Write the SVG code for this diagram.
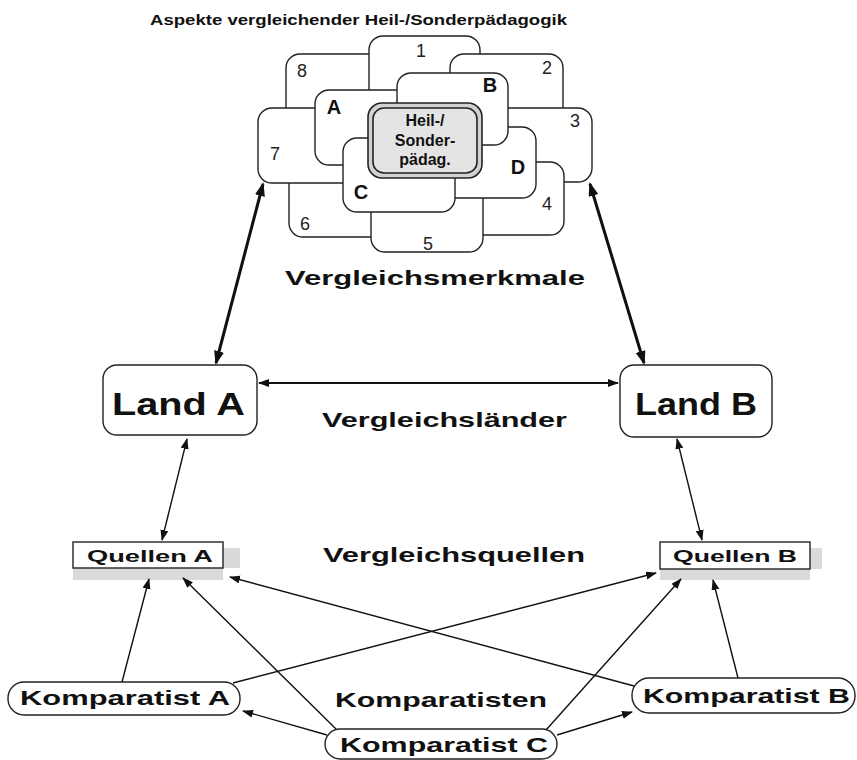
<svg xmlns="http://www.w3.org/2000/svg" width="857" height="760" viewBox="0 0 857 760">
<style>
.b{font-family:"Liberation Sans",Arial,sans-serif;font-weight:bold;fill:#111}
.n{font-family:"Liberation Sans",Arial,sans-serif;font-size:18px;fill:#222;text-anchor:middle}
.L{font-family:"Liberation Sans",Arial,sans-serif;font-weight:bold;font-size:20px;fill:#111;text-anchor:middle}
.box{fill:#fff;stroke:#222;stroke-width:1.4}
.c{stroke:#111;stroke-width:1.4;fill:none}
.sh{fill:#dadada}
</style>
<defs>
<marker id="ah" markerUnits="userSpaceOnUse" markerWidth="12" markerHeight="9" refX="10" refY="4" orient="auto-start-reverse"><path d="M0,0 L11,4 L0,8 z" fill="#111"/></marker>
<marker id="ahB" markerUnits="userSpaceOnUse" markerWidth="15" markerHeight="11" refX="12" refY="5" orient="auto-start-reverse"><path d="M0,0 L14,5 L0,10 z" fill="#111"/></marker>
</defs>
<rect width="857" height="760" fill="#fff"/>
<text class="b" x="150" y="25" font-size="15" textLength="417" lengthAdjust="spacingAndGlyphs">Aspekte vergleichender Heil-/Sonderpädagogik</text>

<g id="flower">
<g id="f8"><rect class="box" x="286" y="54" width="114" height="80" rx="14"/><text class="n" x="302" y="77">8</text></g>
<g id="f1"><rect class="box" x="369" y="36" width="111" height="90" rx="14"/><text class="n" x="421" y="57">1</text></g>
<g id="f2"><rect class="box" x="450" y="54" width="113" height="80" rx="14"/><text class="n" x="547" y="74">2</text></g>
<g id="f3"><rect class="box" x="480" y="108" width="112" height="74" rx="14"/><text class="n" x="575" y="127">3</text></g>
<g id="f4"><rect class="box" x="450" y="162" width="114" height="73" rx="14"/><text class="n" x="547" y="210">4</text></g>
<g id="f6"><rect class="box" x="289" y="160" width="112" height="77" rx="14"/><text class="n" x="305" y="230">6</text></g>
<g id="f5"><rect class="box" x="371" y="170" width="112" height="82" rx="14"/><text class="n" x="428" y="250">5</text></g>
<g id="f7"><rect class="box" x="258" y="108" width="112" height="75" rx="14"/><text class="n" x="275" y="160">7</text></g>
<g id="fA"><rect class="box" x="315" y="90" width="115" height="75" rx="14"/><text class="L" x="334" y="114">A</text></g>
<g id="fD"><rect class="box" x="427" y="127" width="109" height="71" rx="14"/><text class="L" x="518" y="174">D</text></g>
<g id="fB"><rect class="box" x="397" y="73" width="111" height="72" rx="14"/><text class="L" x="490" y="92">B</text></g>
<g id="fC"><rect class="box" x="343" y="138" width="112" height="74" rx="14"/><text class="L" x="361" y="199">C</text></g>
<g id="center">
<rect x="368" y="103" width="114" height="75" rx="14" fill="#d2d2d2" stroke="#222" stroke-width="1.6"/>
<rect x="373" y="108" width="104" height="65" rx="11" fill="#e4e4e4" stroke="#222" stroke-width="1.6"/>
<text class="b" x="425" y="126" font-size="16" text-anchor="middle">Heil-/</text>
<text class="b" x="425" y="146" font-size="16" text-anchor="middle">Sonder-</text>
<text class="b" x="425" y="165" font-size="16" text-anchor="middle">pädag.</text>
</g>
</g>

<text class="b" x="285" y="285" font-size="21" textLength="300" lengthAdjust="spacingAndGlyphs">Vergleichsmerkmale</text>
<text class="b" x="322" y="427" font-size="21" textLength="245" lengthAdjust="spacingAndGlyphs">Vergleichsländer</text>
<text class="b" x="323" y="562" font-size="21" textLength="262" lengthAdjust="spacingAndGlyphs">Vergleichsquellen</text>
<text class="b" x="335" y="707" font-size="21" textLength="212" lengthAdjust="spacingAndGlyphs">Komparatisten</text>

<g id="landA"><rect class="box" x="103" y="365" width="154" height="70" rx="14"/><text class="b" x="112" y="415" font-size="32" textLength="133" lengthAdjust="spacingAndGlyphs">Land A</text></g>
<g id="landB"><rect class="box" x="620" y="365" width="152" height="72" rx="14"/><text class="b" x="635" y="415" font-size="32" textLength="122" lengthAdjust="spacingAndGlyphs">Land B</text></g>

<g id="quellenA"><path class="sh" d="M73,568 H240 V548 H223 V580 H73 z"/><rect class="box" x="73" y="542" width="150" height="26"/><text class="b" x="87" y="562" font-size="17" textLength="126" lengthAdjust="spacingAndGlyphs">Quellen A</text></g>
<g id="quellenB"><path class="sh" d="M660,569 H822 V548 H810 V580 H660 z"/><rect class="box" x="660" y="542" width="150" height="27"/><text class="b" x="673" y="562" font-size="17" textLength="124" lengthAdjust="spacingAndGlyphs">Quellen B</text></g>

<g id="kompA"><rect class="box" x="8" y="682" width="232" height="33" rx="16"/><text class="b" x="20" y="705" font-size="21" textLength="210" lengthAdjust="spacingAndGlyphs">Komparatist A</text></g>
<g id="kompB"><rect class="box" x="632" y="678" width="223" height="35" rx="17"/><text class="b" x="643" y="703" font-size="21" textLength="207" lengthAdjust="spacingAndGlyphs">Komparatist B</text></g>
<g id="kompC"><rect class="box" x="325" y="729" width="232" height="30" rx="15"/><text class="b" x="340" y="752" font-size="21" textLength="208" lengthAdjust="spacingAndGlyphs">Komparatist C</text></g>

<g id="connectors">
<line x1="263" y1="184" x2="216" y2="363" stroke="#111" stroke-width="3" marker-start="url(#ahB)" marker-end="url(#ahB)"/>
<line x1="590" y1="184" x2="644" y2="363" stroke="#111" stroke-width="3" marker-start="url(#ahB)" marker-end="url(#ahB)"/>
<line x1="259" y1="383" x2="618" y2="383" stroke="#111" stroke-width="2" marker-start="url(#ah)" marker-end="url(#ah)"/>
<line class="c" x1="187" y1="439" x2="162" y2="540" marker-start="url(#ah)" marker-end="url(#ah)"/>
<line class="c" x1="677" y1="439" x2="702" y2="540" marker-start="url(#ah)" marker-end="url(#ah)"/>
<line class="c" x1="122" y1="682" x2="149" y2="579" marker-end="url(#ah)"/>
<line class="c" x1="233" y1="683" x2="656" y2="573" marker-end="url(#ah)"/>
<line class="c" x1="634" y1="686" x2="230" y2="577" marker-end="url(#ah)"/>
<line class="c" x1="738" y1="678" x2="713" y2="580" marker-end="url(#ah)"/>
<line class="c" x1="336" y1="729" x2="183" y2="578" marker-end="url(#ah)"/>
<line class="c" x1="546" y1="730" x2="681" y2="579" marker-end="url(#ah)"/>
<line class="c" x1="327" y1="735" x2="243" y2="711" marker-end="url(#ah)"/>
<line class="c" x1="557" y1="735" x2="632" y2="712" marker-end="url(#ah)"/>
</g>
</svg>
